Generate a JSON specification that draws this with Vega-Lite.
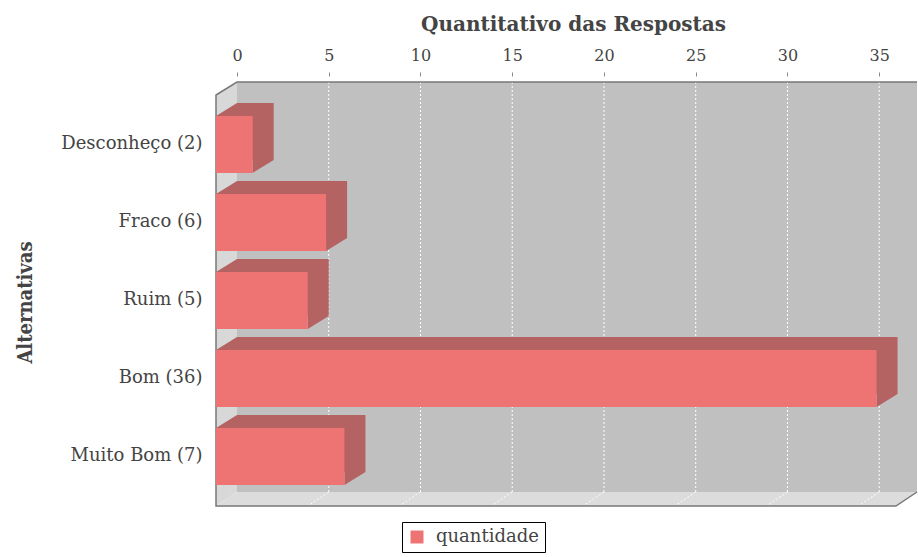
{
  "$schema": "https://vega.github.io/schema/vega-lite/v6.json",
  "width": 701,
  "height": 424,
  "autosize": {"type": "none"},
  "padding": {"left": 216, "top": 82, "right": 1, "bottom": 51},
  "background": "white",
  "config": {"view": {"stroke": null}, "font": "DejaVu Serif"},
  "datasets": {
    "bars": [
      {"cat": "Desconheço (2)", "v": 2, "serie": "quantidade"},
      {"cat": "Fraco (6)", "v": 6, "serie": "quantidade"},
      {"cat": "Ruim (5)", "v": 5, "serie": "quantidade"},
      {"cat": "Bom (36)", "v": 36, "serie": "quantidade"},
      {"cat": "Muito Bom (7)", "v": 7, "serie": "quantidade"}
    ],
    "wall": [{"x": 0, "x2": 37.06, "y": 14, "y2": 424}],
    "leftwall": [{"x": -1.144, "y": 411, "y2": 0}, {"x": 0, "y": 424, "y2": 14}],
    "floor": [
      {"x": -1.144, "y": 0, "y2": 0},
      {"x": 0, "y": 14, "y2": 0},
      {"x": 35.91, "y": 14, "y2": 0},
      {"x": 37.06, "y": 14, "y2": 14}
    ],
    "grid": [
      {"x": 5, "x2": 5, "y": 14, "y2": 424},
      {"x": 10, "x2": 10, "y": 14, "y2": 424},
      {"x": 15, "x2": 15, "y": 14, "y2": 424},
      {"x": 20, "x2": 20, "y": 14, "y2": 424},
      {"x": 25, "x2": 25, "y": 14, "y2": 424},
      {"x": 30, "x2": 30, "y": 14, "y2": 424},
      {"x": 35, "x2": 35, "y": 14, "y2": 424},
      {"x": 5, "x2": 3.856, "y": 14, "y2": 0},
      {"x": 10, "x2": 8.856, "y": 14, "y2": 0},
      {"x": 15, "x2": 13.856, "y": 14, "y2": 0},
      {"x": 20, "x2": 18.856, "y": 14, "y2": 0},
      {"x": 25, "x2": 23.856, "y": 14, "y2": 0},
      {"x": 30, "x2": 28.856, "y": 14, "y2": 0},
      {"x": 35, "x2": 33.856, "y": 14, "y2": 0}
    ],
    "frame": [
      {"i": 1, "x": 37.06, "y": 424},
      {"i": 2, "x": 0, "y": 424},
      {"i": 3, "x": -1.144, "y": 411},
      {"i": 4, "x": -1.144, "y": 0},
      {"i": 5, "x": 35.91, "y": 0},
      {"i": 6, "x": 37.06, "y": 14}
    ]
  },
  "layer": [
    {
      "layer": [
        {
          "data": {"name": "wall"},
          "mark": {"type": "rect", "fill": "#c0c0c0"},
          "encoding": {
            "x": {
              "field": "x", "type": "quantitative",
              "scale": {"domain": [-1.144, 37.06], "nice": false, "zero": false},
              "axis": {
                "orient": "top", "values": [0, 5, 10, 15, 20, 25, 30, 35],
                "offset": 6, "tickSize": 4, "tickColor": "#888", "tickWidth": 1,
                "domain": false, "grid": false,
                "labelFont": "DejaVu Serif", "labelFontSize": 16, "labelColor": "#444",
                "labelPadding": 12, "labelBaseline": "alphabetic",
                "title": "Quantitativo das Respostas",
                "titleFont": "DejaVu Serif", "titleFontSize": 20, "titleFontWeight": "bold",
                "titleColor": "#444", "titleX": 357, "titleY": -46,
                "titleBaseline": "alphabetic", "titleAlign": "center"
              }
            },
            "x2": {"field": "x2"},
            "y": {"field": "y", "type": "quantitative", "scale": {"domain": [0, 424], "nice": false, "zero": false}, "axis": null},
            "y2": {"field": "y2"}
          }
        },
        {
          "data": {"name": "leftwall"},
          "mark": {"type": "area", "orient": "vertical", "fill": "#d8d8d8"},
          "encoding": {
            "x": {"field": "x", "type": "quantitative", "scale": {"domain": [-1.144, 37.06], "nice": false, "zero": false}},
            "y": {"field": "y", "type": "quantitative", "scale": {"domain": [0, 424], "nice": false, "zero": false}, "axis": null},
            "y2": {"field": "y2"}
          }
        },
        {
          "data": {"name": "floor"},
          "mark": {"type": "area", "orient": "vertical", "fill": "#dcdcdc"},
          "encoding": {
            "x": {"field": "x", "type": "quantitative", "scale": {"domain": [-1.144, 37.06], "nice": false, "zero": false}},
            "y": {"field": "y", "type": "quantitative", "scale": {"domain": [0, 424], "nice": false, "zero": false}, "axis": null},
            "y2": {"field": "y2"}
          }
        },
        {
          "data": {"name": "grid"},
          "mark": {"type": "rule", "stroke": "#ffffff", "strokeDash": [2, 2], "strokeWidth": 1},
          "encoding": {
            "x": {"field": "x", "type": "quantitative", "scale": {"domain": [-1.144, 37.06], "nice": false, "zero": false}},
            "x2": {"field": "x2"},
            "y": {"field": "y", "type": "quantitative", "scale": {"domain": [0, 424], "nice": false, "zero": false}, "axis": null},
            "y2": {"field": "y2"}
          }
        },
        {
          "data": {"name": "frame"},
          "mark": {"type": "line", "stroke": "#777777", "strokeWidth": 1.5},
          "encoding": {
            "x": {"field": "x", "type": "quantitative", "scale": {"domain": [-1.144, 37.06], "nice": false, "zero": false}},
            "y": {"field": "y", "type": "quantitative", "scale": {"domain": [0, 424], "nice": false, "zero": false}, "axis": null},
            "order": {"field": "i", "type": "quantitative"}
          }
        }
      ]
    },
    {
      "data": {"name": "bars"},
      "layer": [
        {
          "mark": {"type": "bar", "color": "#b46262", "xOffset": 21, "x2Offset": 21, "yOffset": -13, "y2Offset": -13},
          "encoding": {
            "x": {"field": "v", "type": "quantitative", "scale": {"domain": [0, 38.204], "nice": false, "zero": false}, "axis": null},
            "y": {
              "field": "cat", "type": "nominal", "sort": null,
              "scale": {"type": "band", "paddingInner": 0.27, "paddingOuter": 0.353, "align": 0.617},
              "axis": {
                "orient": "left", "ticks": false, "domain": false, "grid": false,
                "labelFont": "DejaVu Serif", "labelFontSize": 18, "labelColor": "#444", "labelPadding": 14,
                "title": "Alternativas", "titleFont": "DejaVu Serif Condensed", "titleFontSize": 20,
                "titleFontWeight": "bold", "titleColor": "#444", "titleX": -185, "titleY": 220,
                "titleBaseline": "alphabetic", "titleAngle": -90, "titleAlign": "center"
              }
            }
          }
        },
        {
          "mark": {"type": "point", "shape": "M0,0L2,-1.238L2,0Z", "size": 441, "filled": true, "opacity": 1, "strokeWidth": 0, "color": "#b46262"},
          "encoding": {
            "x": {"datum": 0, "type": "quantitative"},
            "y": {"field": "cat", "type": "nominal", "sort": null, "bandPosition": 0}
          }
        },
        {
          "mark": {"type": "point", "shape": "M0,-1.238L2,-1.238L0,0Z", "size": 441, "filled": true, "opacity": 1, "strokeWidth": 0, "color": "#b46262"},
          "encoding": {
            "x": {"field": "v", "type": "quantitative"},
            "y": {"field": "cat", "type": "nominal", "sort": null, "bandPosition": 1}
          }
        },
        {
          "mark": {"type": "bar"},
          "encoding": {
            "x": {"field": "v", "type": "quantitative"},
            "y": {"field": "cat", "type": "nominal", "sort": null},
            "color": {
              "field": "serie", "type": "nominal",
              "scale": {"range": ["#ee7474"]},
              "legend": {
                "orient": "none", "legendX": 186, "legendY": 440, "title": null,
                "strokeColor": "#000000", "padding": 6, "fillColor": "#ffffff",
                "symbolType": "square", "symbolSize": 169, "symbolStrokeWidth": 0,
                "labelFont": "DejaVu Serif", "labelFontSize": 18, "labelColor": "#444", "labelOffset": 10,
                "encode": {"symbols": {"update": {"fill": {"value": "#ff5555"}, "opacity": {"value": 1}}}}
              }
            }
          }
        }
      ]
    }
  ],
  "resolve": {"scale": {"x": "independent", "y": "independent"}}
}
